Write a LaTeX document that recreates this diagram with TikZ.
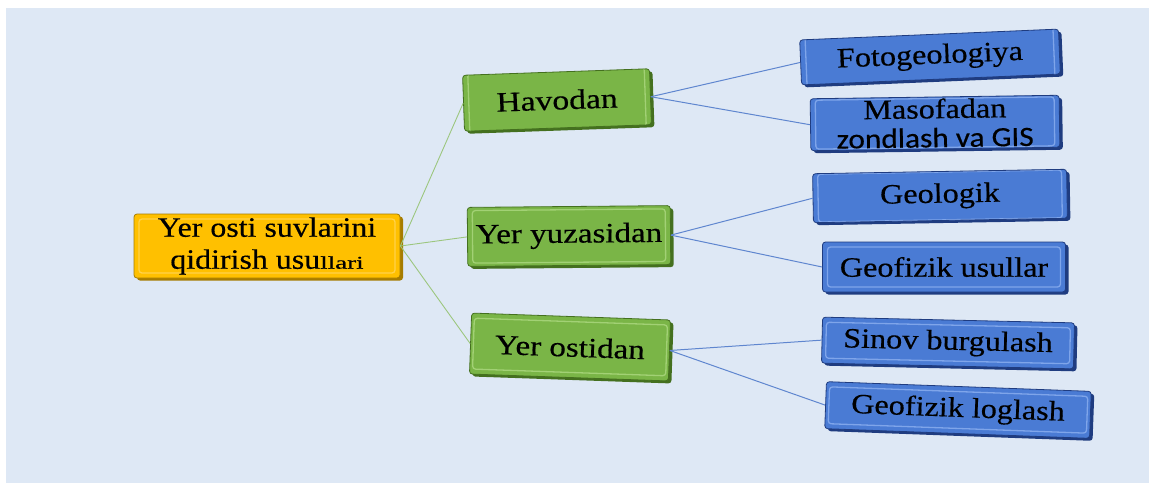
\documentclass[tikz,border=0pt]{standalone}
\usepackage{fontspec}
\usepackage{graphicx}
\setmainfont{Liberation Serif}[FakeBold=0.4]
\newfontfamily\sansc{Carlito}[FakeBold=0.4]
\usetikzlibrary{shadows}
\definecolor{bgc}{HTML}{DEE8F5}
\definecolor{yfill}{HTML}{FFC000}
\definecolor{ydark}{HTML}{A67C00}
\definecolor{ylight}{HTML}{FFD24A}
\definecolor{gfill}{HTML}{7AB547}
\definecolor{gdark}{HTML}{44701F}
\definecolor{glight}{HTML}{A2D175}
\definecolor{bfill}{HTML}{4A7BD4}
\definecolor{bdark}{HTML}{1F3C80}
\definecolor{blight}{HTML}{7FA5EA}
\definecolor{glinec}{HTML}{9CC67E}
\definecolor{blinec}{HTML}{5F86CF}
\newcommand{\sx}[2][1.15]{\scalebox{#1}[1]{#2}}
\tikzset{
  bx/.style n args={3}{draw=#2, line width=0.8pt, fill=#1, rounded corners=3pt,
    drop shadow={shadow xshift=3pt, shadow yshift=-2.5pt, fill=#2, opacity=1},
    inner sep=0pt, align=center, text=black,
    font=\fontsize{28}{32}\selectfont,
    path picture={\draw[#3, line width=1.3pt]
      ([shift={(5pt,-5pt)}]path picture bounding box.north west) rectangle
      ([shift={(-5pt,5pt)}]path picture bounding box.south east);}},
  ybox/.style={bx={yfill}{ydark}{ylight}},
  gbox/.style={bx={gfill}{gdark}{glight}},
  bbox/.style={bx={bfill}{bdark}{blight}},
  gline/.style={draw=glinec, line width=0.9pt},
  bline/.style={draw=blinec, line width=1pt},
}
\begin{document}
\begin{tikzpicture}[x=1pt,y=-1pt]
\useasboundingbox (0,0) rectangle (1149,485);
\fill[white] (0,0) rectangle (1149,485);
\fill[bgc] (6,8) rectangle (1149,483);

\node[ybox, minimum width=266, minimum height=64] (root) at (267,246)
  {\sx[1.14]{Yer osti suvlarini}\\\sx[1.14]{qidirish usu}{\fontsize{18}{32}\selectfont\scalebox{1.5}[1]{llari}}};

\node[gbox, minimum width=187, minimum height=56, rotate=2] (hav) at (557,100) {\sx[1.2]{Havodan}};
\node[gbox, minimum width=203, minimum height=59, rotate=0.5] (yuz) at (569,236) {\sx[1.18]{Yer yuzasidan}};
\node[gbox, minimum width=199, minimum height=61, rotate=-2] (ost) at (570,347) {\sx[1.18]{Yer ostidan}};

\node[bbox, minimum width=259, minimum height=45, rotate=2.4] (foto) at (930,57) {\sx{Fotogeologiya}};
\node[bbox, minimum width=249, minimum height=52, rotate=0.8, font=\fontsize{28}{29}\selectfont] (maso) at (935,123)
  {\sx{Masofadan}\\{\sansc\sx[1.12]{zondlash va GIS}}};
\node[bbox, minimum width=254, minimum height=49, rotate=1] (geol) at (940,196) {\sx{Geologik}};
\node[bbox, minimum width=243, minimum height=50, rotate=0] (gus) at (944,267) {\sx{Geofizik usullar}};
\node[bbox, minimum width=252, minimum height=46, rotate=-1.3] (sin) at (948,343) {\sx{Sinov burgulash}};
\node[bbox, minimum width=265, minimum height=47, rotate=-2.1] (log) at (958,410) {\sx{Geofizik loglash}};

\draw[gline] (root.east) -- (hav.west);
\draw[gline] (root.east) -- (yuz.west);
\draw[gline] (root.east) -- (ost.west);
\draw[bline] (hav.east) -- (foto.west);
\draw[bline] (hav.east) -- (maso.west);
\draw[bline] (yuz.east) -- (geol.west);
\draw[bline] (yuz.east) -- (gus.west);
\draw[bline] (ost.east) -- (sin.west);
\draw[bline] (ost.east) -- (log.west);
\end{tikzpicture}
\end{document}
